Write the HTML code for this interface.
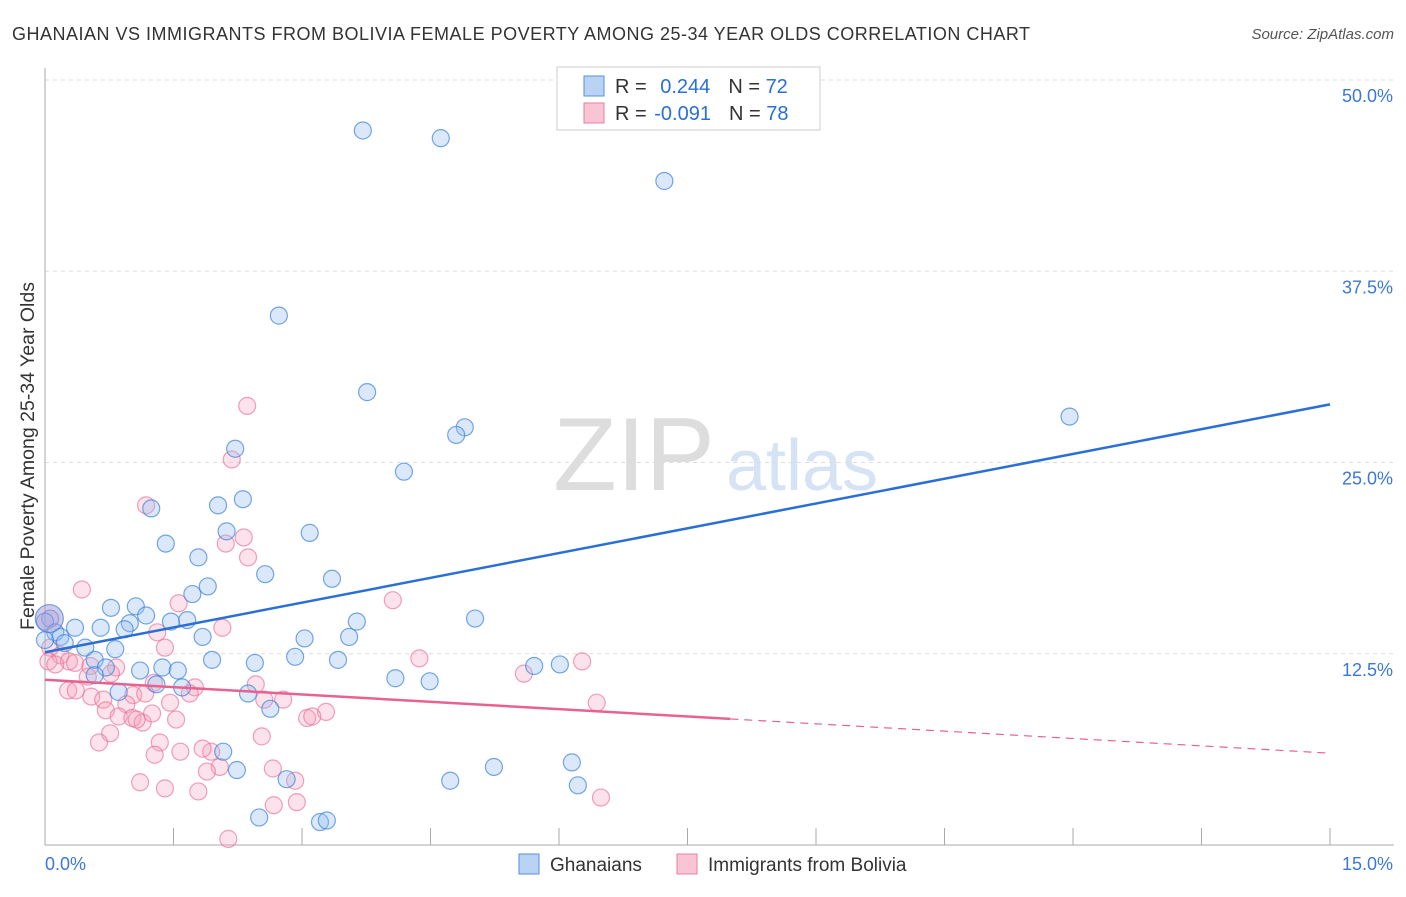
<!DOCTYPE html>
<html><head><meta charset="utf-8"><style>
body{margin:0;background:#fff;font-family:"Liberation Sans",sans-serif;}
svg text{font-family:"Liberation Sans",sans-serif;}
</style></head><body>
<svg id="chart" width="1406" height="892" xmlns="http://www.w3.org/2000/svg">
<text x="12" y="40" font-size="18" fill="#333" letter-spacing="0.5">GHANAIAN VS IMMIGRANTS FROM BOLIVIA FEMALE POVERTY AMONG 25-34 YEAR OLDS CORRELATION CHART</text>
<text x="1394" y="39" font-size="15" fill="#555" text-anchor="end" font-style="italic">Source: ZipAtlas.com</text>
<g>
<text x="634" y="490" font-size="104" fill="#ddd" text-anchor="middle" font-family="Liberation Serif">ZIP</text>
<text x="802" y="490" font-size="72" fill="#d5e3f5" text-anchor="middle">atlas</text>
</g>
<g id="grid"></g>
<g id="axes"></g>
<g id="points"></g>
<g id="trends"></g>
<text transform="translate(34,456) rotate(-90)" font-size="19.5" fill="#333" text-anchor="middle">Female Poverty Among 25-34 Year Olds</text>
<g>
<rect x="557" y="67" width="263" height="63" fill="#fff" stroke="#ccc"/>
<rect x="584" y="76" width="20" height="20" fill="#b9d3f5" stroke="#5a8fd8"/>
<rect x="584" y="103" width="20" height="20" fill="#f9c4d4" stroke="#e97fa0"/>
<text x="615" y="93" font-size="20" fill="#333">R = <tspan fill="#2a6fd6" dx="8">0.244</tspan><tspan dx="18" fill="#333">N = </tspan><tspan fill="#2a6fd6">72</tspan></text>
<text x="615" y="120" font-size="20" fill="#333">R = <tspan fill="#2a6fd6" dx="2">-0.091</tspan><tspan dx="18" fill="#333">N = </tspan><tspan fill="#2a6fd6">78</tspan></text>
</g>
<g>
<rect x="519" y="854" width="20" height="20" fill="#b9d3f5" stroke="#5a8fd8"/>
<text x="550" y="871" font-size="19" fill="#333">Ghanaians</text>
<rect x="677" y="854" width="20" height="20" fill="#f9c4d4" stroke="#e97fa0"/>
<text x="708" y="871" font-size="19" fill="#333">Immigrants from Bolivia</text>
</g>
</svg>
<script>
const xTicks=[0,1.5,3,4.5,6,7.5,9,10.5,12,13.5,15];
const yTicks=[12.5,25,37.5,50];
const yTickLabels=["12.5%","25.0%","37.5%","50.0%"];
const xEndLabels=["0.0%","15.0%"];
const blueX=[3.71,4.62,7.23,2.73,3.76,11.96,4.90,4.80,2.22,4.19,2.31,1.24,2.02,2.12,3.09,1.41,1.79,2.57,3.35,1.90,1.72,0.77,1.06,1.18,0.99,1.47,1.66,3.64,5.02,0.06,0.0,0.12,0.35,0.65,0.93,0.18,0.23,0.47,0.82,3.03,3.55,1.84,0.58,1.95,2.45,2.92,3.42,1.37,1.55,1.11,0.71,5.71,6.01,1.30,1.60,4.09,4.49,0.86,2.37,2.63,2.08,2.24,2.82,4.73,5.24,6.15,6.22,2.50,3.21,3.29,0.0,0.58];
const blueY=[46.7,46.2,43.4,34.6,29.6,28.0,27.3,26.8,25.9,24.4,22.6,22.0,22.2,20.5,20.4,19.7,18.8,17.7,17.4,16.9,16.4,15.5,15.6,15.0,14.5,14.6,14.7,14.6,14.8,14.8,14.6,13.9,14.2,14.2,14.1,13.6,13.2,12.9,12.8,13.5,13.6,13.6,12.1,12.1,11.9,12.3,12.1,11.6,11.4,11.4,11.6,11.7,11.8,10.5,10.3,10.9,10.7,10.0,9.9,8.9,6.1,4.9,4.3,4.2,5.1,5.4,3.9,1.8,1.5,1.6,13.4,11.1];
const pinkX=[2.36,2.18,1.18,2.32,2.11,2.37,0.43,4.06,1.56,2.07,1.31,0.06,0.18,0.28,0.35,0.53,0.83,0.50,0.77,1.40,4.37,6.27,5.59,1.27,1.75,2.46,0.27,0.36,0.54,0.68,1.03,1.69,1.17,1.46,2.56,2.78,6.44,0.71,0.95,0.86,1.02,1.14,1.25,1.53,3.06,3.28,3.12,1.07,0.76,0.63,2.53,1.34,1.58,1.94,1.84,1.28,2.04,1.89,2.66,1.11,1.40,1.79,2.92,2.67,2.94,6.49,2.14,0.04,0.12];
const pinkY=[28.7,25.2,22.2,20.1,19.7,18.8,16.7,16.0,15.8,14.2,13.9,12.9,12.4,12.0,11.9,11.7,11.6,11.0,11.2,12.9,12.2,12.0,11.2,10.6,10.3,10.5,10.1,10.1,9.7,9.5,9.8,9.9,9.9,9.3,9.5,9.5,9.3,8.8,9.2,8.4,8.3,8.0,8.6,8.2,8.3,8.7,8.4,8.2,7.3,6.7,7.1,6.7,6.1,6.1,6.3,5.9,5.1,4.8,5.0,4.1,3.7,3.5,4.2,2.6,2.8,3.1,0.4,12.0,11.8];
const blueTrend=[12.6,28.8];
const pinkTrend=[10.8,6.0];
const pinkSolidEnd=8.0;
const NS="http://www.w3.org/2000/svg";
const sx=v=>45+v*(1330-45)/15;
const sy=v=>845-v*(845-80)/50;
function mk(tag,attrs,parent){const e=document.createElementNS(NS,tag);for(const k in attrs)e.setAttribute(k,attrs[k]);document.getElementById(parent).appendChild(e);return e;}
yTicks.forEach((t,i)=>{
 const g=mk('line',{x1:45,x2:1394,y1:sy(t),y2:sy(t),stroke:'#ddd','stroke-dasharray':'4,4'},'grid');
 
 
 const l=mk('text',{x:1393,y:sy(t)+22,'font-size':18,fill:'#3b78d8','text-anchor':'end'},'axes');
 l.textContent=yTickLabels[i];
 
 
});
const ax=mk('line',{x1:45,x2:45,y1:68,y2:845,stroke:'#aaa'},'axes');


const bx=mk('line',{x1:45,x2:1394,y1:845,y2:845,stroke:'#aaa'},'axes');


xTicks.forEach(t=>{
 const tk=mk('line',{x1:sx(t),x2:sx(t),y1:828,y2:845,stroke:'#aaa'},'axes');
 
 
});
const xl0=mk('text',{x:45,y:870,'font-size':18,fill:'#3b78d8'},'axes');xl0.textContent=xEndLabels[0];


const xl1=mk('text',{x:1393,y:870,'font-size':18,fill:'#3b78d8','text-anchor':'end'},'axes');xl1.textContent=xEndLabels[1];


pinkX.forEach((x,i)=>{
 const c=mk('circle',{cx:sx(x),cy:sy(pinkY[i]),r:8.5,fill:'rgba(244,160,185,0.3)',stroke:'rgba(232,110,150,0.65)','stroke-width':1.2},'points');
 
 
});
blueX.forEach((x,i)=>{
 const c=mk('circle',{cx:sx(x),cy:sy(blueY[i]),r:8.5,fill:'rgba(150,190,240,0.35)',stroke:'rgba(60,130,220,0.7)','stroke-width':1.2},'points');
 
 
});
const big=mk('circle',{cx:sx(0.05),cy:sy(14.8),r:14,fill:'rgba(170,150,210,0.5)',stroke:'rgba(60,130,220,0.7)','stroke-width':1.2},'points');


const bt=mk('line',{x1:sx(0),y1:sy(blueTrend[0]),x2:sx(15),y2:sy(blueTrend[1]),stroke:'#2a6fd6','stroke-width':2.5},'trends');


const pAt=x=>pinkTrend[0]+(pinkTrend[1]-pinkTrend[0])*x/15;
const pt=mk('line',{x1:sx(0),y1:sy(pAt(0)),x2:sx(pinkSolidEnd),y2:sy(pAt(pinkSolidEnd)),stroke:'#e8628f','stroke-width':2.5},'trends');


const pd=mk('line',{x1:sx(pinkSolidEnd),y1:sy(pAt(pinkSolidEnd)),x2:sx(15),y2:sy(pAt(15)),stroke:'#e8628f','stroke-width':1.2,'stroke-dasharray':'8,6'},'trends');


</script>
</body></html>
